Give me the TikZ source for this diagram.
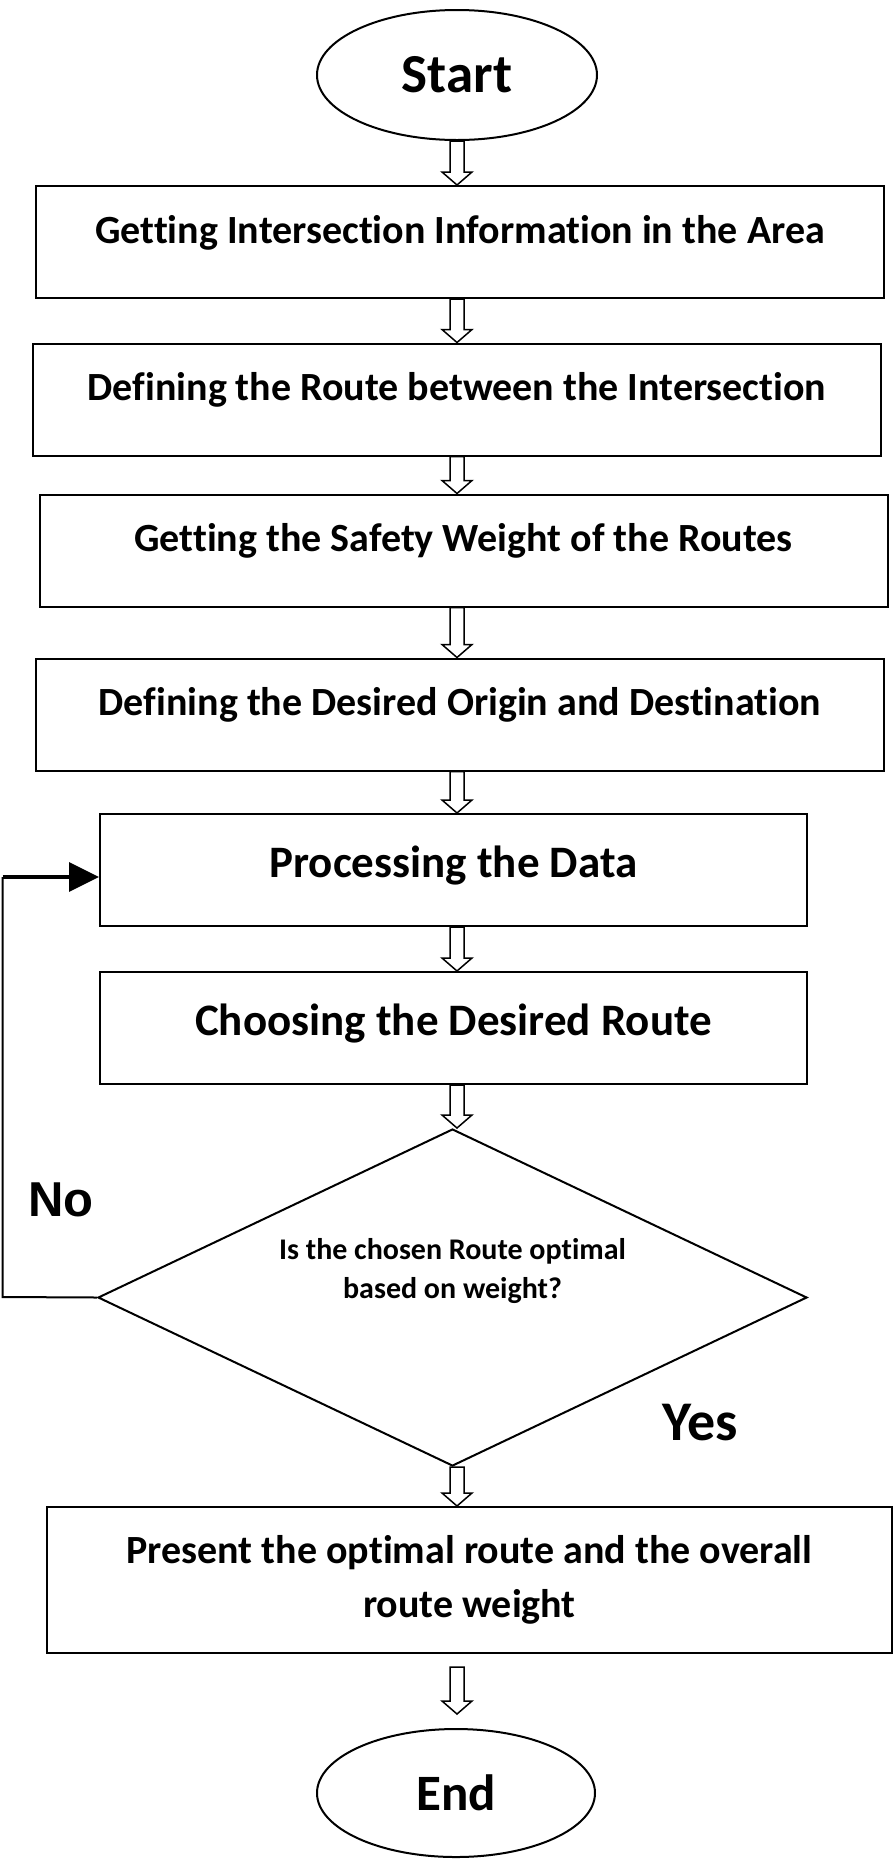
\documentclass[tikz,border=0pt]{standalone}
\usepackage{fontspec}
\setmainfont{Carlito}[Ligatures=NoCommon]
\newfontfamily\arialfont{Liberation Sans}
\usetikzlibrary{shapes.geometric,arrows.meta,calc}

% hollow down arrow between two points, at the x of the first
\newcommand{\hollowarrow}[2]{%
  \draw[hollow] let \p1=(#1), \p2=(#2) in
    (\x1-7pt,\y1) -- (\x1+7pt,\y1) -- (\x1+7pt,\y2+13pt) -- (\x1+15pt,\y2+13pt)
    -- (\x1,\y2) -- (\x1-15pt,\y2+13pt) -- (\x1-7pt,\y2+13pt) -- cycle;}

\begin{document}
\begin{tikzpicture}[x=1pt, y=1pt,
  every node/.style={line width=2pt},
  term/.style={ellipse, draw, minimum width=280pt, minimum height=130pt, font=\bfseries\fontsize{55}{60}\selectfont},
  box/.style={rectangle, draw, minimum width=848pt, minimum height=112pt, text height=29pt, text depth=27pt, font=\bfseries\fontsize{40}{46}\selectfont},
  bigbox/.style={box, minimum width=707pt, text height=37pt, text depth=23pt, font=\bfseries\fontsize{45}{50}\selectfont},
  twoline/.style={rectangle, draw, minimum width=845pt, minimum height=146pt, align=center, font=\bfseries\fontsize{40}{54}\selectfont},
  decision/.style={diamond, draw, minimum width=709pt, minimum height=337pt, inner sep=0pt},
  question/.style={align=center, font=\bfseries\fontsize{30}{39}\selectfont},
  answer/.style={font=\bfseries\fontsize{56}{60}\selectfont},
  hollow/.style={draw, line width=1.5pt, fill=white, line join=miter}]
\useasboundingbox (0,0) rectangle (896,-1861);

% steps
\node[term] (start) at (457,-75) {Start};
\node[box] (b1) at (460,-242) {Getting Intersection Information in the Area};
\node[box] (b2) at (457,-399.5) {Defining the Route between the Intersection};
\node[box] (b3) at (463.5,-550.5) {Getting the Safety Weight of the Routes};
\node[box] (b4) at (460,-714.5) {Defining the Desired Origin and Destination};
\node[bigbox] (b5) at (453.5,-870) {Processing the Data};
\node[bigbox] (b6) at (453.5,-1028) {Choosing the Desired Route};
\node[decision] (dec) at (452.5,-1297.5) {};
\node[question] (qtxt) at (452.5,-1271) {Is the chosen Route optimal\\based on weight?};
\node[twoline] (b7) at (469.5,-1580) {Present the optimal route and the overall\\route weight};
\node[term, minimum width=278pt, minimum height=128pt, font=\bfseries\fontsize{51}{56}\selectfont] (fin) at (456,-1793) {End};

% answers
\node[answer, font=\arialfont\bfseries\fontsize{49}{55}\selectfont] (no) at (61,-1200) {No};
\node[answer] (yes) at (700,-1423) {Yes};

% hollow arrows
\hollowarrow{start.south}{b1.north -| start}
\hollowarrow{b1.south -| start}{b2.north -| start}
\hollowarrow{b2.south -| start}{b3.north -| start}
\hollowarrow{b3.south -| start}{b4.north -| start}
\hollowarrow{b4.south -| start}{b5.north -| start}
\hollowarrow{b5.south -| start}{b6.north -| start}
\hollowarrow{b6.south -| start}{dec.north -| start}
\hollowarrow{dec.south -| start}{b7.north -| start}
\coordinate (a7) at ($(b7.south -| start)+(0,-13)$);
\coordinate (a8) at ($(fin.north)+(0,14)$);
\hollowarrow{a7}{a8 -| start}

% loop back on No
\coordinate (cornerlow) at (2.5,-1297);
\coordinate (cornerup) at (2.5,-877);
\draw[line width=2pt] (dec.west) -- (cornerlow) -- (cornerup);
\draw[line width=3.5pt, -{Triangle[length=30pt,width=29pt]}] (cornerup) -- (cornerup -| b5.west);
\end{tikzpicture}
\end{document}
